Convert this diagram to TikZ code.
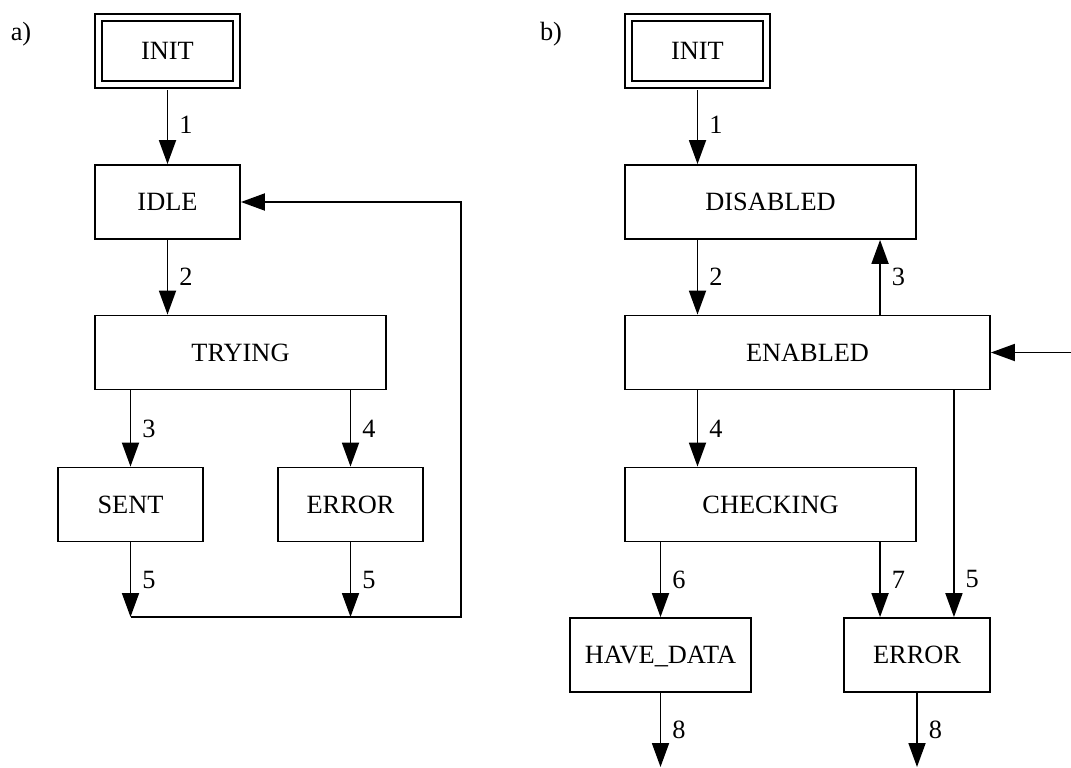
\documentclass[tikz,border=0pt]{standalone}
\usepackage{fontspec}
\setmainfont{Liberation Serif}
\usetikzlibrary{arrows.meta, positioning, calc}

\begin{document}
\begin{tikzpicture}[
    x=0.02cm, y=-0.02cm,
    state/.style={draw, line width=1.05pt, minimum height=1.48cm, inner sep=0pt, text height=10pt, text depth=0pt, font=\fontsize{15}{18}\selectfont},
    initstate/.style={state, double, double distance=0.1cm, minimum width=2.77cm, minimum height=1.35cm},
    arrow/.style={-{Triangle[length=0.48cm, width=0.34cm]}, line width=1.05pt},
    lbl/.style={midway, right, xshift=0.1cm, font=\fontsize{15}{18}\selectfont}
]
    \useasboundingbox (0,0) rectangle (1071,767);

    % a)
    \node[font=\fontsize{15}{18}\selectfont] (tagA) at (21,34) {a)};
    \node[initstate] (initA) at (167.5,51) {INIT};
    \node[state, minimum width=2.9cm] (idleA) at (167.5,202) {IDLE};
    \node[state, minimum width=5.82cm] (tryA) at (240.5,352.5) {TRYING};
    \node[state, minimum width=2.9cm] (sentA) at (130.5,504.5) {SENT};
    \node[state, minimum width=2.9cm] (errA) at (350.5,504.5) {ERROR};
    \coordinate (baseA) at (461,617);

    \draw[arrow, shorten <=0.09cm] (initA) -- (idleA) node[lbl] {1};
    \draw[arrow] (idleA) -- (idleA |- tryA.north) node[lbl] {2};
    \draw[arrow] (sentA |- tryA.south) -- (sentA) node[lbl] {3};
    \draw[arrow] (errA |- tryA.south) -- (errA) node[lbl] {4};
    \draw[arrow] (sentA) -- (sentA |- baseA) node[lbl] {5};
    \draw[arrow] (errA) -- (errA |- baseA) node[lbl] {5};
    \draw[arrow] (sentA |- baseA) -- (baseA) -- (baseA |- idleA) -- (idleA);

    % b)
    \node[font=\fontsize{15}{18}\selectfont] (tagB) at (551,34) {b)};
    \node[initstate] (initB) at (697.5,51) {INIT};
    \node[state, minimum width=5.82cm] (disB) at (770.5,202) {DISABLED};
    \node[state, minimum width=7.3cm] (enB) at (807.5,352.5) {ENABLED};
    \node[state, minimum width=5.82cm] (chkB) at (770.5,504.5) {CHECKING};
    \node[state, minimum width=3.62cm] (haveB) at (660.5,655) {HAVE\_DATA};
    \node[state, minimum width=2.92cm] (errB) at (917,655) {ERROR};
    \coordinate (e7) at ($(errB.north west)!0.25!(errB.north east)$);
    \coordinate (e5) at ($(errB.north west)!0.75!(errB.north east)$);
    \coordinate (inB) at (1071,352.5);
    \coordinate (bot) at (0,767);

    \draw[arrow, shorten <=0.09cm] (initB) -- (disB.north -| initB) node[lbl] {1};
    \draw[arrow] (disB.south -| initB) -- (enB.north -| initB) node[lbl] {2};
    \draw[arrow] (enB.north -| e7) -- (disB.south -| e7) node[lbl] {3};
    \draw[arrow] (enB.south -| initB) -- (chkB.north -| initB) node[lbl] {4};
    \draw[arrow] (enB.south -| e5) -- (e5) node[lbl, pos=0.83] {5};
    \draw[arrow] (chkB.south -| haveB) -- (haveB) node[lbl] {6};
    \draw[arrow] (chkB.south -| e7) -- (e7) node[lbl] {7};
    \draw[arrow] (inB) -- (enB);
    \draw[arrow] (haveB) -- (haveB |- bot) node[lbl] {8};
    \draw[arrow] (errB) -- (errB |- bot) node[lbl] {8};
\end{tikzpicture}
\end{document}
